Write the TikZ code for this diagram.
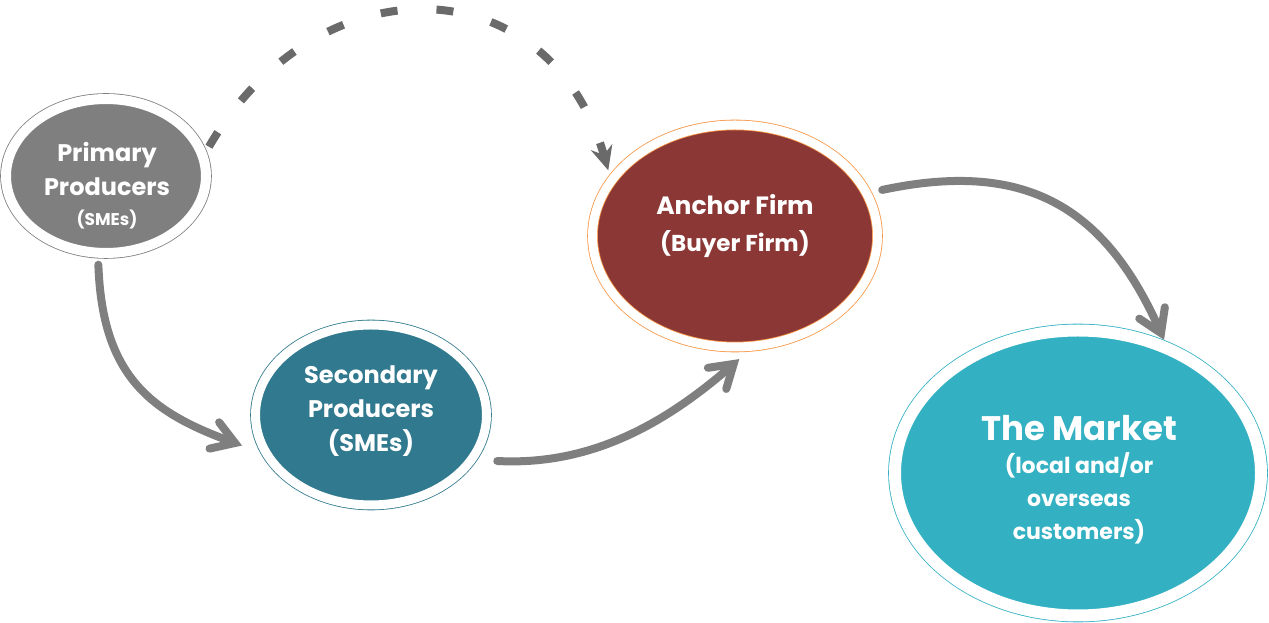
\documentclass[tikz,border=0pt]{standalone}
\usepackage{fontspec}
\setmainfont{Poppins}
\usetikzlibrary{shapes.geometric,arrows.meta}

\definecolor{primgray}{HTML}{7F7F7F}
\definecolor{secteal}{HTML}{30798E}
\definecolor{anchorred}{HTML}{8A3735}
\definecolor{anchorring}{HTML}{F79646}
\definecolor{mktcyan}{HTML}{33B1C3}
\definecolor{arrowgray}{HTML}{7F7F7F}
\definecolor{dashgray}{HTML}{6A6A6A}

\begin{document}
\begin{tikzpicture}[x=1pt, y=1pt,
    blob/.style={ellipse, fill=#1, outer sep=0pt, inner sep=0pt, double=white, line width=0.8pt, double distance=9pt},
    txt/.style={text=white, align=center},
    flow/.style={arrowgray, line width=8pt, line cap=round, -{Straight Barb[length=22pt, width=28pt, line cap=round]}},
    ]
    \useasboundingbox (0,0) rectangle (1269,623);

    % Producers
    \node[blob=primgray, draw=primgray, double distance=10pt, minimum width=200pt, minimum height=154pt] (prim) at (106,447) {};
    \node[txt, font=\bfseries\fontsize{24}{34}\selectfont] (prim-t) at (107,437) {Primary\\Producers\\[-4pt]{\fontsize{17}{24}\selectfont (SMEs)}};
    \node[blob=secteal, draw=secteal, minimum width=231pt, minimum height=180pt] (sec) at (371,208) {};
    \node[txt, font=\bfseries\fontsize{24}{34}\selectfont] (sec-t) at (371,212) {Secondary\\Producers\\(SMEs)};

    % Buyer and market
    \node[blob=anchorred, draw=anchorring, minimum width=285pt, minimum height=222pt] (anchor) at (735,387) {};
    \node[txt, font=\bfseries\fontsize{25}{37}\selectfont] (anchor-t) at (735,397) {Anchor Firm\\{\fontsize{23}{37}\selectfont (Buyer Firm)}};
    \node[blob=mktcyan, draw=mktcyan, double distance=12pt, minimum width=366pt, minimum height=285pt] (mkt) at (1078,150) {};
    \node[txt, font=\bfseries\fontsize{22}{33}\selectfont] (mkt-t) at (1079,143) {{\fontsize{34}{40}\selectfont The Market}\\(local and/or\\overseas\\customers)};

    % Flows
    \draw[flow, shorten <=12pt, shorten >=27pt] (prim.-96) to[out=-88, in=160, looseness=1.2] (sec.201);
    \draw[flow, shorten <=26pt, shorten >=20pt] (sec.-24) to[out=-3, in=221] (anchor.-80);
    \draw[flow, shorten <=16pt, shorten >=10pt] (anchor.18) to[out=12, in=114, looseness=1.2] (mkt.54);
    \draw[dashgray, line width=8pt, dash pattern=on 17pt off 39pt, shorten <=12pt, shorten >=11pt,
        -{Stealth[length=24pt, width=22pt, inset=8pt]}] (prim.11) to[out=60, in=106, looseness=1.42] (anchor.156);
\end{tikzpicture}
\end{document}
